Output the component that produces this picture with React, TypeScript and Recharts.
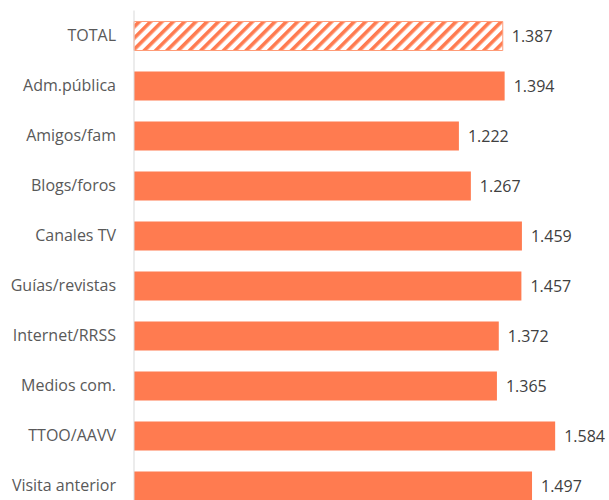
import { BarChart, Bar, XAxis, YAxis, Cell, LabelList } from "recharts";

const categories = [
  "TOTAL",
  "Adm.pública",
  "Amigos/fam",
  "Blogs/foros",
  "Canales TV",
  "Guías/revistas",
  "Internet/RRSS",
  "Medios com.",
  "TTOO/AAVV",
  "Visita anterior",
];
const values = [1387, 1394, 1222, 1267, 1459, 1457, 1372, 1365, 1584, 1497];

const data = categories.map((name, i) => ({ name, value: values[i] }));

const ORANGE = "#FF7B50";
const FONT = "'Open Sans', sans-serif";

const formatValue = (v: number) => (v / 1000).toFixed(3);

export default function App() {
  return (
    <div
      style={{
        position: "absolute",
        left: 0,
        top: 0,
        width: 609,
        height: 500,
        overflow: "hidden",
        background: "#fff",
      }}
    >
      <BarChart
        width={609}
        height={520}
        data={data}
        layout="vertical"
        margin={{ top: 10.5, right: 23, bottom: 9.5, left: 0 }}
        barSize={29}
      >
        <defs>
          <pattern
            id="hatch"
            width="8"
            height="8"
            patternUnits="userSpaceOnUse"
            patternTransform="rotate(45)"
          >
            <rect width="8" height="8" fill="#fff" />
            <rect width="3.6" height="8" fill={ORANGE} />
          </pattern>
        </defs>
        <XAxis type="number" domain={[0, 1700]} hide />
        <YAxis
          type="category"
          dataKey="name"
          width={134}
          tickLine={false}
          tickSize={0}
          tickMargin={18}
          axisLine={{ stroke: "#D9D9D9", strokeWidth: 1 }}
          tick={{ fill: "#595959", fontSize: 16, fontFamily: FONT }}
          interval={0}
        />
        <Bar dataKey="value" isAnimationActive={false}>
          {data.map((d, i) => (
            <Cell
              key={d.name}
              fill={i === 0 ? "url(#hatch)" : ORANGE}
              stroke={i === 0 ? "#FF9C78" : "none"}
              strokeWidth={1}
            />
          ))}
          <LabelList
            dataKey="value"
            position="right"
            offset={9}
            formatter={(v: any) => formatValue(Number(v))}
            style={{ fill: "#404040", fontSize: 16, fontFamily: FONT }}
          />
        </Bar>
      </BarChart>
    </div>
  );
}
